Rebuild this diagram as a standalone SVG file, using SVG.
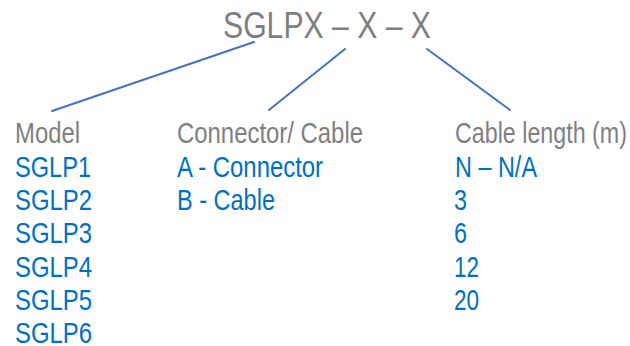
<svg xmlns="http://www.w3.org/2000/svg" width="630" height="346" viewBox="0 0 630 346">
<style>
text{font-family:"Liberation Sans",Arial,sans-serif;}
.title{font-size:36px;fill:#7f7f7f;}
.head{font-size:30px;fill:#7f7f7f;}
.item{font-size:30px;fill:#0070c0;}
.conn{stroke:#4472c4;stroke-width:2;fill:none;stroke-linecap:round;}
</style>
<rect width="630" height="346" fill="#ffffff"/>
<g id="connectors">
<line class="conn" x1="254" y1="42" x2="52" y2="111"/>
<line class="conn" x1="345" y1="49" x2="269" y2="110"/>
<line class="conn" x1="427" y1="49" x2="510" y2="110"/>
</g>
<g id="title">
<text class="title" x="223" y="38" textLength="208" lengthAdjust="spacingAndGlyphs">SGLPX – X – X</text>
</g>
<g id="model">
<text class="head" x="15" y="143" textLength="65" lengthAdjust="spacingAndGlyphs">Model</text>
<text class="item" x="15" y="177" textLength="76" lengthAdjust="spacingAndGlyphs">SGLP1</text>
<text class="item" x="15" y="210" textLength="77" lengthAdjust="spacingAndGlyphs">SGLP2</text>
<text class="item" x="15" y="243" textLength="77" lengthAdjust="spacingAndGlyphs">SGLP3</text>
<text class="item" x="15" y="277" textLength="77" lengthAdjust="spacingAndGlyphs">SGLP4</text>
<text class="item" x="15" y="310" textLength="77" lengthAdjust="spacingAndGlyphs">SGLP5</text>
<text class="item" x="15" y="343" textLength="77" lengthAdjust="spacingAndGlyphs">SGLP6</text>
</g>
<g id="connector-cable">
<text class="head" x="177" y="143" textLength="186" lengthAdjust="spacingAndGlyphs">Connector/ Cable</text>
<text class="item" x="177" y="177" textLength="146" lengthAdjust="spacingAndGlyphs">A - Connector</text>
<text class="item" x="177" y="210" textLength="98" lengthAdjust="spacingAndGlyphs">B - Cable</text>
</g>
<g id="cable-length">
<text class="head" x="455" y="143" textLength="172" lengthAdjust="spacingAndGlyphs">Cable length (m)</text>
<text class="item" x="455" y="177" textLength="82" lengthAdjust="spacingAndGlyphs">N – N/A</text>
<text class="item" x="454" y="210" textLength="13" lengthAdjust="spacingAndGlyphs">3</text>
<text class="item" x="454" y="243" textLength="13" lengthAdjust="spacingAndGlyphs">6</text>
<text class="item" x="454" y="277" textLength="25" lengthAdjust="spacingAndGlyphs">12</text>
<text class="item" x="454" y="310" textLength="25" lengthAdjust="spacingAndGlyphs">20</text>
</g>
</svg>
